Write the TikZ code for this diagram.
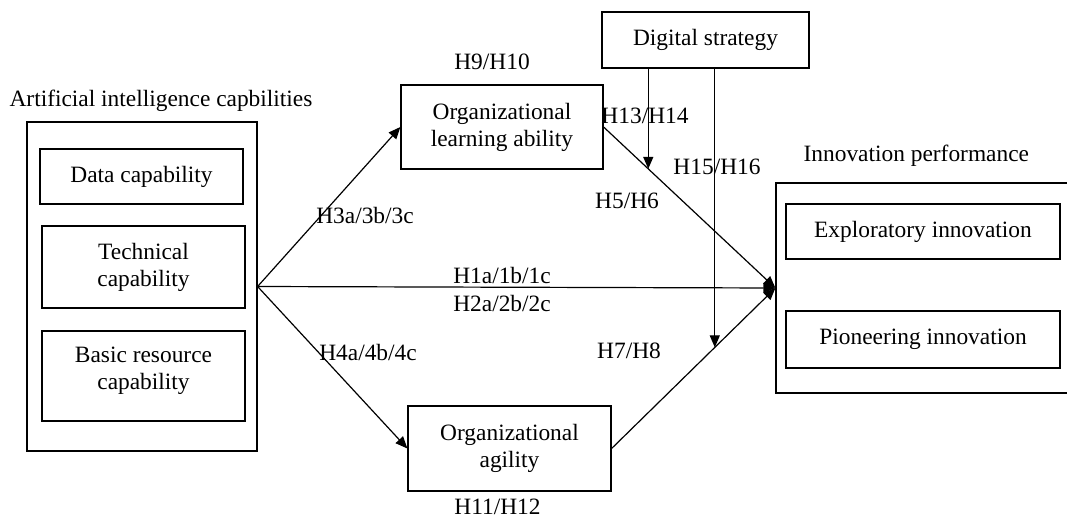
\documentclass[tikz,border=0pt]{standalone}
\usepackage{fontspec}
\setmainfont{Liberation Serif}
\usetikzlibrary{positioning, arrows.meta}

\tikzset{
  box/.style={draw, line width=1.2pt, align=center, inner sep=0pt},
  lbl/.style={inner sep=0pt},
  link/.style={line width=1.2pt, -{Triangle[length=12pt,width=10pt]}},
}

\begin{document}
\begin{tikzpicture}[x=1pt, y=-1pt, font=\fontsize{23.4}{27}\selectfont]
\clip (0,0) rectangle (1067,519);
% AI capabilities
\node[box, minimum width=230pt, minimum height=329pt] (ai) at (142,286.5) {};
\node[box, minimum width=203pt, minimum height=55pt] (data) at (141.5,176.5) {Data capability};
\node[box, minimum width=203pt, minimum height=82pt] (tech) at (143.5,267) {Technical\\capability};
\node[box, minimum width=203pt, minimum height=90pt] (basic) at (143.5,376) {Basic resource\\capability\\[-12pt]};
\node[lbl, above right=10pt and -17pt of ai.north west] (aititle) {Artificial intelligence capbilities};

% mediators and moderator
\node[box, minimum width=202pt, minimum height=84pt] (learn) at (502,127) {Organizational\\learning ability};
\node[box, minimum width=203pt, minimum height=85pt] (agile) at (509.5,448.5) {Organizational\\agility};
\node[box, minimum width=207pt, minimum height=56pt] (ds) at (705.5,40) {Digital strategy};
\node[lbl, above=14pt of learn.north, xshift=-10pt] (h9) {H9/H10};
\node[lbl, below=7pt of agile.south, xshift=-12pt] (h11) {H11/H12};

% innovation performance
\node[box, minimum width=304pt, minimum height=210pt] (inno) at (928,288) {};
\node[box, minimum width=274pt, minimum height=55pt] (expl) at (923,231.5) {Exploratory innovation};
\node[box, minimum width=274pt, minimum height=57pt] (pion) at (923,339.5) {Pioneering innovation};
\node[lbl, above right=16pt and 28pt of inno.north west] (inntitle) {Innovation performance};

% paths
\draw[link] (ai.east) -- (learn.west);
\draw[link] (ai.east) -- (agile.west);
\draw[link] (ai.east) -- (inno.west);
\draw[link] (learn.east) -- (inno.west);
\draw[link] (agile.east) -- (inno.west);
\path (learn.east) -- (inno.west) coordinate[pos=0.26] (m1);
\path (agile.east) -- (inno.west) coordinate[pos=0.63] (m2);
\draw[link] (ds.south -| m1) -- (m1);
\draw[link] (ds.south -| m2) -- (m2);

% hypotheses
\node[lbl] (h1) at (502,275) {H1a/1b/1c};
\node[lbl] (h2) at (502,303) {H2a/2b/2c};
\node[lbl] (h3) at (365,215) {H3a/3b/3c};
\node[lbl] (h4) at (368,352) {H4a/4b/4c};
\node[lbl] (h5) at (627,201) {H5/H6};
\node[lbl] (h7) at (629,351) {H7/H8};
\node[lbl] (h13) at (645,116) {H13/H14};
\node[lbl] (h15) at (717,167) {H15/H16};
\end{tikzpicture}
\end{document}
